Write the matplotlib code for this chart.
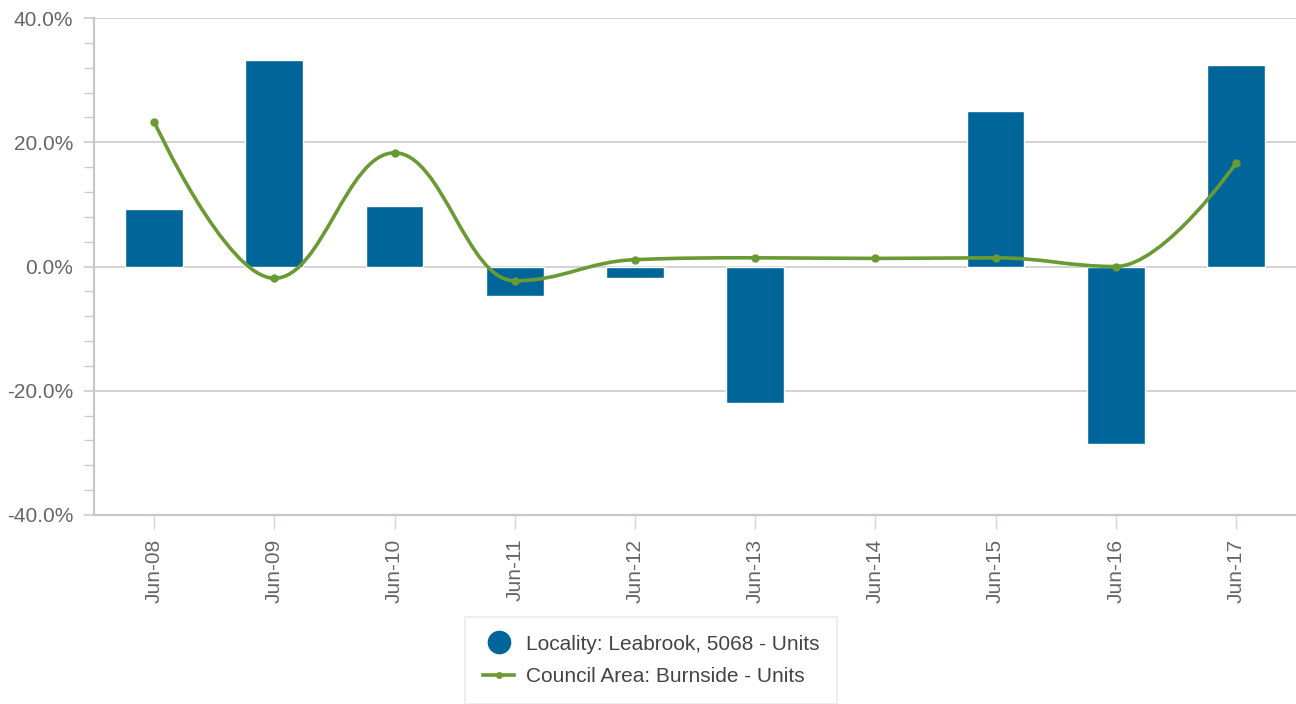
import numpy as np
import matplotlib.pyplot as plt
from matplotlib.path import Path
from matplotlib.patches import PathPatch
from matplotlib.lines import Line2D
from matplotlib.ticker import FuncFormatter, MultipleLocator

plt.rcParams['font.family'] = ['Liberation Sans', 'DejaVu Sans']

categories = ['Jun-08', 'Jun-09', 'Jun-10', 'Jun-11', 'Jun-12',
              'Jun-13', 'Jun-14', 'Jun-15', 'Jun-16', 'Jun-17']
locality = [9.2, 33.3, 9.8, -4.8, -1.8, -21.9, 0.0, 25.1, -28.6, 32.5]
council = [23.3, -1.9, 18.3, -2.3, 1.1, 1.4, 1.3, 1.4, 0.0, 16.6]
locality_name = 'Locality: Leabrook, 5068 - Units'
council_name = 'Council Area: Burnside - Units'

bar_color = '#006699'
line_color = '#6a9a33'
text_color = '#666666'


def spline_path(xs, ys, smoothing=1.5):
    # highcharts-style spline control points
    n = len(xs)
    left = [None] * n
    right = [None] * n
    denom = smoothing + 1
    for i in range(1, n - 1):
        px, py = xs[i], ys[i]
        lx, ly = xs[i - 1], ys[i - 1]
        nx, ny = xs[i + 1], ys[i + 1]
        lcx = (smoothing * px + lx) / denom
        lcy = (smoothing * py + ly) / denom
        rcx = (smoothing * px + nx) / denom
        rcy = (smoothing * py + ny) / denom
        corr = (rcy - lcy) * (rcx - px) / (rcx - lcx) + py - rcy
        lcy += corr
        rcy += corr
        if lcy > ly and lcy > py:
            lcy = max(ly, py)
            rcy = 2 * py - lcy
        elif lcy < ly and lcy < py:
            lcy = min(ly, py)
            rcy = 2 * py - lcy
        if rcy > ny and rcy > py:
            rcy = max(ny, py)
            lcy = 2 * py - rcy
        elif rcy < ny and rcy < py:
            rcy = min(ny, py)
            lcy = 2 * py - rcy
        left[i] = (lcx, lcy)
        right[i] = (rcx, rcy)
    verts = [(xs[0], ys[0])]
    codes = [Path.MOVETO]
    for i in range(1, n):
        c1 = right[i - 1] or (xs[i - 1], ys[i - 1])
        c2 = left[i] or (xs[i], ys[i])
        verts += [c1, c2, (xs[i], ys[i])]
        codes += [Path.CURVE4] * 3
    return Path(verts, codes)


fig = plt.figure(figsize=(12.96, 7.04), dpi=100)
ax = fig.add_axes([94 / 1296, 1 - 515 / 704, 1 - 94 / 1296, (515 - 18) / 704])

x = np.arange(len(categories))
edges = ['white' if v != 0 else 'none' for v in locality]
ax.bar(x, locality, width=0.48, color=bar_color, edgecolor=edges,
       linewidth=1, zorder=2)
ax.add_patch(PathPatch(spline_path(list(x), council), facecolor='none',
                       edgecolor=line_color, linewidth=2.6, zorder=3,
                       capstyle='round', joinstyle='round'))
ax.plot(x, council, 'o', color=line_color, markersize=5, zorder=4)

ax.set_xlim(-0.5, len(categories) - 0.5)
ax.set_ylim(-40, 40)
ax.yaxis.set_major_locator(MultipleLocator(20))
ax.yaxis.set_minor_locator(MultipleLocator(4))
ax.yaxis.set_major_formatter(FuncFormatter(lambda v, p: '%.1f%%' % v))
ax.grid(axis='y', which='major', color='#cccccc', linewidth=1.2, zorder=0)
ax.set_axisbelow(True)

ax.set_xticks(x)
ax.set_xticklabels(categories, rotation=90)
ax.tick_params(axis='x', length=10, width=1, color='#ccd6eb',
               labelsize=15, labelcolor=text_color, pad=7)
ax.tick_params(axis='y', which='major', length=7, width=1.2, color='#cccccc',
               labelsize=15, labelcolor=text_color, pad=8)
ax.tick_params(axis='y', which='minor', length=7, width=1, color='#cccccc')

for s in ['top', 'right']:
    ax.spines[s].set_visible(False)
for s in ['left', 'bottom']:
    ax.spines[s].set_color('#c8c8c8')
    ax.spines[s].set_linewidth(1.6)

handles = [
    Line2D([], [], linestyle='none', marker='o', markersize=16,
           color=bar_color),
    Line2D([], [], color=line_color, linewidth=2.6, marker='o',
           markersize=4),
]
leg = fig.legend(handles, [locality_name, council_name], loc='upper center',
                 bbox_to_anchor=(651 / 1296, 1 - 617 / 704), fontsize=15,
                 frameon=True, fancybox=False, handlelength=1.5,
                 handletextpad=0.55, borderpad=0.85, labelspacing=0.65,
                 borderaxespad=0)
leg.get_frame().set_edgecolor('#e6e6e6')
leg.get_frame().set_linewidth(1.2)
for t in leg.get_texts():
    t.set_color('#444444')

fig.savefig('out.png', dpi=100)
